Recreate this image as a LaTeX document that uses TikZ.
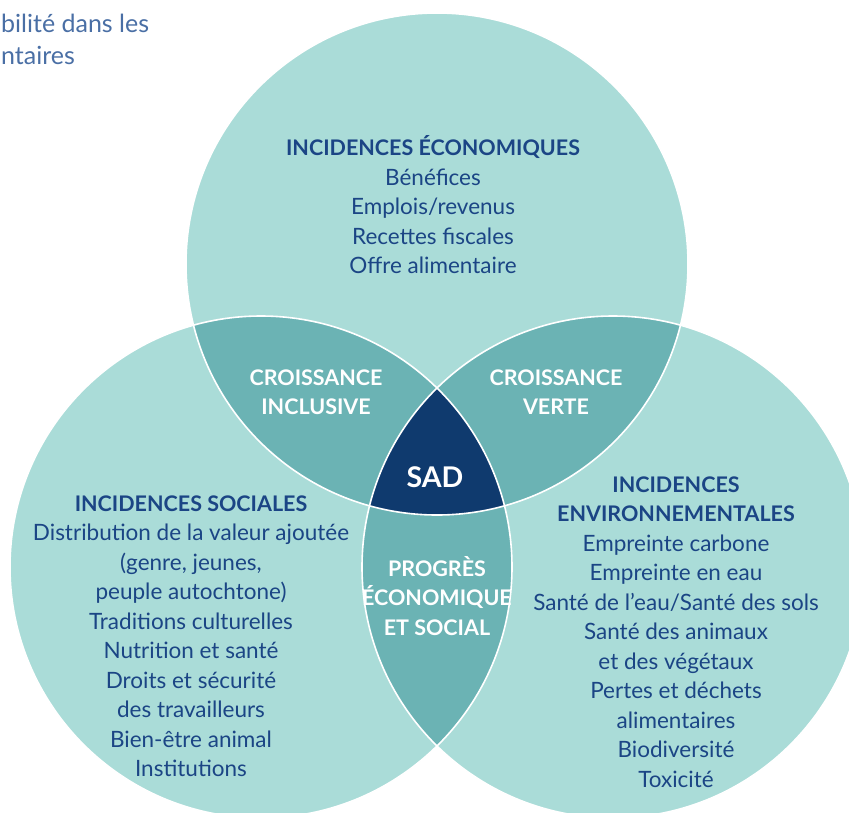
\documentclass[tikz,border=0pt]{standalone}
\usepackage{fontspec}
\setmainfont{Lato}
\definecolor{pale}{HTML}{AADCD8}
\definecolor{teal}{HTML}{6BB3B4}
\definecolor{navy}{HTML}{0F3A6E}
\definecolor{ink}{HTML}{1B4585}
\definecolor{title}{HTML}{4A6FA5}
\begin{document}
\begin{tikzpicture}[x=1pt,y=-1pt]
    \useasboundingbox (0,0) rectangle (849,812);
    \clip (0,0) rectangle (849,812);
    \fill [pale] (437,264) circle (251pt);
    \fill [pale] (261,567) circle (251pt);
    \fill [pale] (613,567) circle (251pt);
    \begin{scope}
        \clip (437,264) circle (251pt);
        \fill [teal] (261,567) circle (251pt);
        \fill [teal] (613,567) circle (251pt);
    \end{scope}
    \begin{scope}
        \clip (261,567) circle (251pt);
        \fill [teal] (613,567) circle (251pt);
        \clip (613,567) circle (251pt);
        \fill [navy] (437,264) circle (251pt);
    \end{scope}
    \draw [white,line width=1.6pt] (437,264) circle (251pt);
    \draw [white,line width=1.6pt] (261,567) circle (251pt);
    \draw [white,line width=1.6pt] (613,567) circle (251pt);
    \node [anchor=base west,title,inner xsep=0pt,font=\fontsize{25}{32}\selectfont] (t1) at (1,32) {bilité dans les};
    \node [anchor=base west,title,inner xsep=0pt,font=\fontsize{25}{32}\selectfont] (t2) at (1,64) {ntaires};
    \node [align=center,ink,font=\fontsize{22.5}{29.5}\selectfont] (eco) at (433,205)
        {\textbf{\fontsize{21.5}{29.5}\selectfont INCIDENCES ÉCONOMIQUES}\\Bénéfices\\Emplois/revenus\\Recettes fiscales\\Offre alimentaire};
    \node [align=center,ink,font=\fontsize{22.5}{29.5}\selectfont] (soc) at (191,636)
        {\textbf{\fontsize{21.5}{29.5}\selectfont INCIDENCES SOCIALES}\\Distribution de la valeur ajoutée\\(genre, jeunes,\\peuple autochtone)\\Traditions culturelles\\Nutrition et santé\\Droits et sécurité\\des travailleurs\\Bien-être animal\\Institutions};
    \node [align=center,ink,font=\fontsize{22.5}{29.5}\selectfont] (env) at (676,632)
        {\textbf{\fontsize{21.5}{29.5}\selectfont INCIDENCES}\\\textbf{\fontsize{21.5}{29.5}\selectfont ENVIRONNEMENTALES}\\Empreinte carbone\\Empreinte en eau\\Santé de l’eau/Santé des sols\\Santé des animaux\\et des végétaux\\Pertes et déchets\\alimentaires\\Biodiversité\\Toxicité};
    \node [align=center,white,font=\bfseries\fontsize{21.5}{29.5}\selectfont] (inc) at (316,392) {CROISSANCE\\INCLUSIVE};
    \node [align=center,white,font=\bfseries\fontsize{21.5}{29.5}\selectfont] (verte) at (556,392) {CROISSANCE\\VERTE};
    \node [align=center,white,font=\bfseries\fontsize{21.5}{29.5}\selectfont] (prog) at (437,596) {PROGRÈS\\ÉCONOMIQUE\\ET SOCIAL};
    \node [white,font=\bfseries\fontsize{28.5}{30}\selectfont] (sad) at (435,477) {SAD};
\end{tikzpicture}
\end{document}
